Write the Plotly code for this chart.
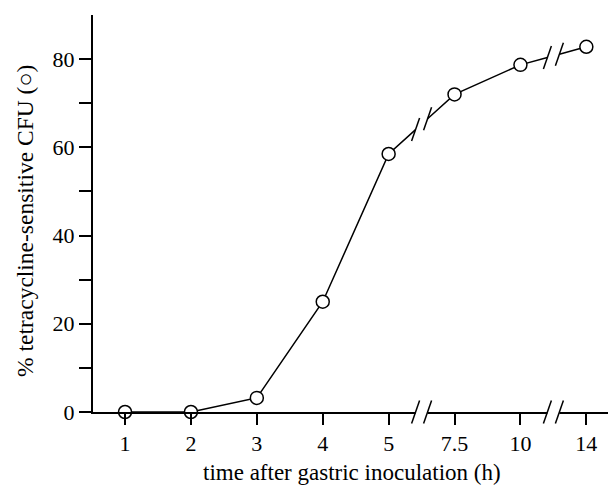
import plotly.graph_objects as go

# ---- data ----
x_labels = ["1", "2", "3", "4", "5", "7.5", "10", "14"]
pct_sensitive = [0, 0, 3.2, 25, 58.5, 72, 78.7, 82.8]
y_tickvals = [0, 10, 20, 30, 40, 50, 60, 70, 80]
y_ticktext = ["0", "", "20", "", "40", "", "60", "", "80"]
break_after = [4, 6]  # axis breaks between 5|7.5 and 10|14

# ---- layout geometry (page has an 8px body margin) ----
OFF = 8
W, H = 616 - OFF, 485 - OFF
ML, MR, MT, MB = 93 - OFF, 0, 15 - OFF, 73
XR = [0.514, 8.45]
YR = [0, 90]
pw = W - ML - MR
ph = H - MT - MB
pxx = pw / (XR[1] - XR[0])
GAP = 6             # half gap (px) at a break
SDX, SDY = 4, 11.5  # slash half extents (px)
FONT = "Liberation Serif, Times New Roman, serif"

xpos = list(range(1, len(x_labels) + 1))


def interp(i, xq):
    x0, x1 = xpos[i], xpos[i + 1]
    y0, y1 = pct_sensitive[i], pct_sensitive[i + 1]
    return y0 + (y1 - y0) * (xq - x0) / (x1 - x0)


def to_px(x):
    return (x - XR[0]) / (XR[1] - XR[0])


def to_py(y):
    return (y - YR[0]) / (YR[1] - YR[0])


lx, ly, breaks = [], [], []
for i in range(len(xpos)):
    lx.append(xpos[i])
    ly.append(pct_sensitive[i])
    if i in break_after:
        mid = (xpos[i] + xpos[i + 1]) / 2
        xl, xr = mid - GAP / pxx, mid + GAP / pxx
        lx += [xl, None, xr]
        ly += [interp(i, xl), None, interp(i, xr)]
        breaks.append((xl, xr, interp(i, xl), interp(i, xr)))

fig = go.Figure()
fig.add_trace(go.Scatter(x=lx, y=ly, mode="lines",
                         line=dict(color="black", width=1.5),
                         hoverinfo="skip", showlegend=False))
fig.add_trace(go.Scatter(x=xpos, y=pct_sensitive, mode="markers",
                         marker=dict(size=13, color="white",
                                     line=dict(color="black", width=1.5)),
                         cliponaxis=False, showlegend=False))

shapes = []
dxp, dyp = SDX / pw, SDY / ph
for xl, xr, yl, yr in breaks:
    # white gap in the x axis line
    shapes.append(dict(type="rect", xref="paper", yref="paper",
                       x0=to_px(xl), x1=to_px(xr), y0=-4 / ph, y1=4 / ph,
                       fillcolor="white", line=dict(width=0), layer="above"))
    for xb, yb in [(xl, 0), (xr, 0), (xl, yl), (xr, yr)]:
        cx, cy = to_px(xb), to_py(yb)
        shapes.append(dict(type="line", xref="paper", yref="paper",
                           x0=cx - dxp, y0=cy - dyp, x1=cx + dxp, y1=cy + dyp,
                           line=dict(color="black", width=1.5), layer="above"))

annotations = [
    dict(text="time after gastric inoculation (h)", xref="paper", yref="paper",
         x=(352 - OFF - ML) / pw, y=(ph - (472 - OFF - MT)) / ph,
         xanchor="center", yanchor="middle",
         showarrow=False, font=dict(family=FONT, size=23, color="black")),
    dict(text="% tetracycline-sensitive CFU (○)", xref="paper", yref="paper",
         x=(25 - OFF - ML) / pw, y=(ph - (221 - OFF - MT)) / ph, textangle=-90,
         xanchor="center", yanchor="middle",
         showarrow=False, font=dict(family=FONT, size=23.5, color="black")),
]

fig.update_layout(
    width=W, height=H,
    margin=dict(l=ML, r=MR, t=MT, b=MB),
    paper_bgcolor="white", plot_bgcolor="white",
    font=dict(family=FONT, size=22, color="black"),
    shapes=shapes, annotations=annotations,
    xaxis=dict(range=XR, tickvals=xpos, ticktext=x_labels,
               showgrid=False, zeroline=False, showline=True,
               linecolor="black", linewidth=2,
               ticks="outside", ticklen=11, tickwidth=2, tickcolor="black"),
    yaxis=dict(range=YR, tickvals=y_tickvals, ticktext=y_ticktext,
               showgrid=False, zeroline=False, showline=True,
               linecolor="black", linewidth=2,
               ticks="outside", ticklen=12, tickwidth=2, tickcolor="black"),
)

fig.write_html("out.html")
